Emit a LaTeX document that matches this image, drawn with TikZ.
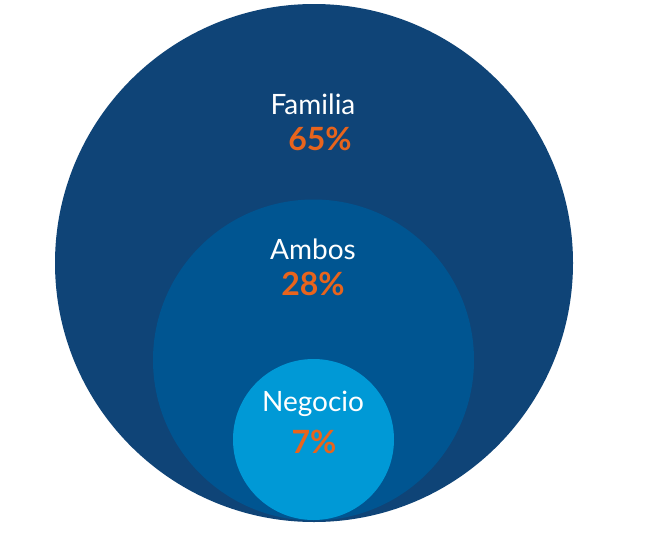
\documentclass[tikz,border=0pt]{standalone}
\usepackage{fontspec}
\setmainfont{Lato}
\definecolor{outerc}{HTML}{0F4477}
\definecolor{midc}{HTML}{005591}
\definecolor{innc}{HTML}{0099D6}
\definecolor{orc}{HTML}{E8641C}
\begin{document}
\begin{tikzpicture}[x=1pt,y=-1pt,
 lab/.style={text=white,font=\fontsize{28}{32}\selectfont},
 pct/.style={text=orc,font=\bfseries\fontsize{32}{36}\selectfont}]
\useasboundingbox (0,0) rectangle (656,538);
\fill[white] (0,0) rectangle (656,538);
\fill[outerc] (314,263) circle (259);
\fill[midc] (313.5,360) circle (160.5);
\fill[innc] (313.5,439.5) circle (80.5);
\node[lab] (fam) at (313,104) {Familia};
\node[pct] (fp) at (320,139) {65\%};
\node[lab] (amb) at (313,249) {Ambos};
\node[pct] (ap) at (313,284) {28\%};
\node[lab] (neg) at (313,404) {Negocio};
\node[pct] (np) at (314,442) {7\%};
\end{tikzpicture}
\end{document}
